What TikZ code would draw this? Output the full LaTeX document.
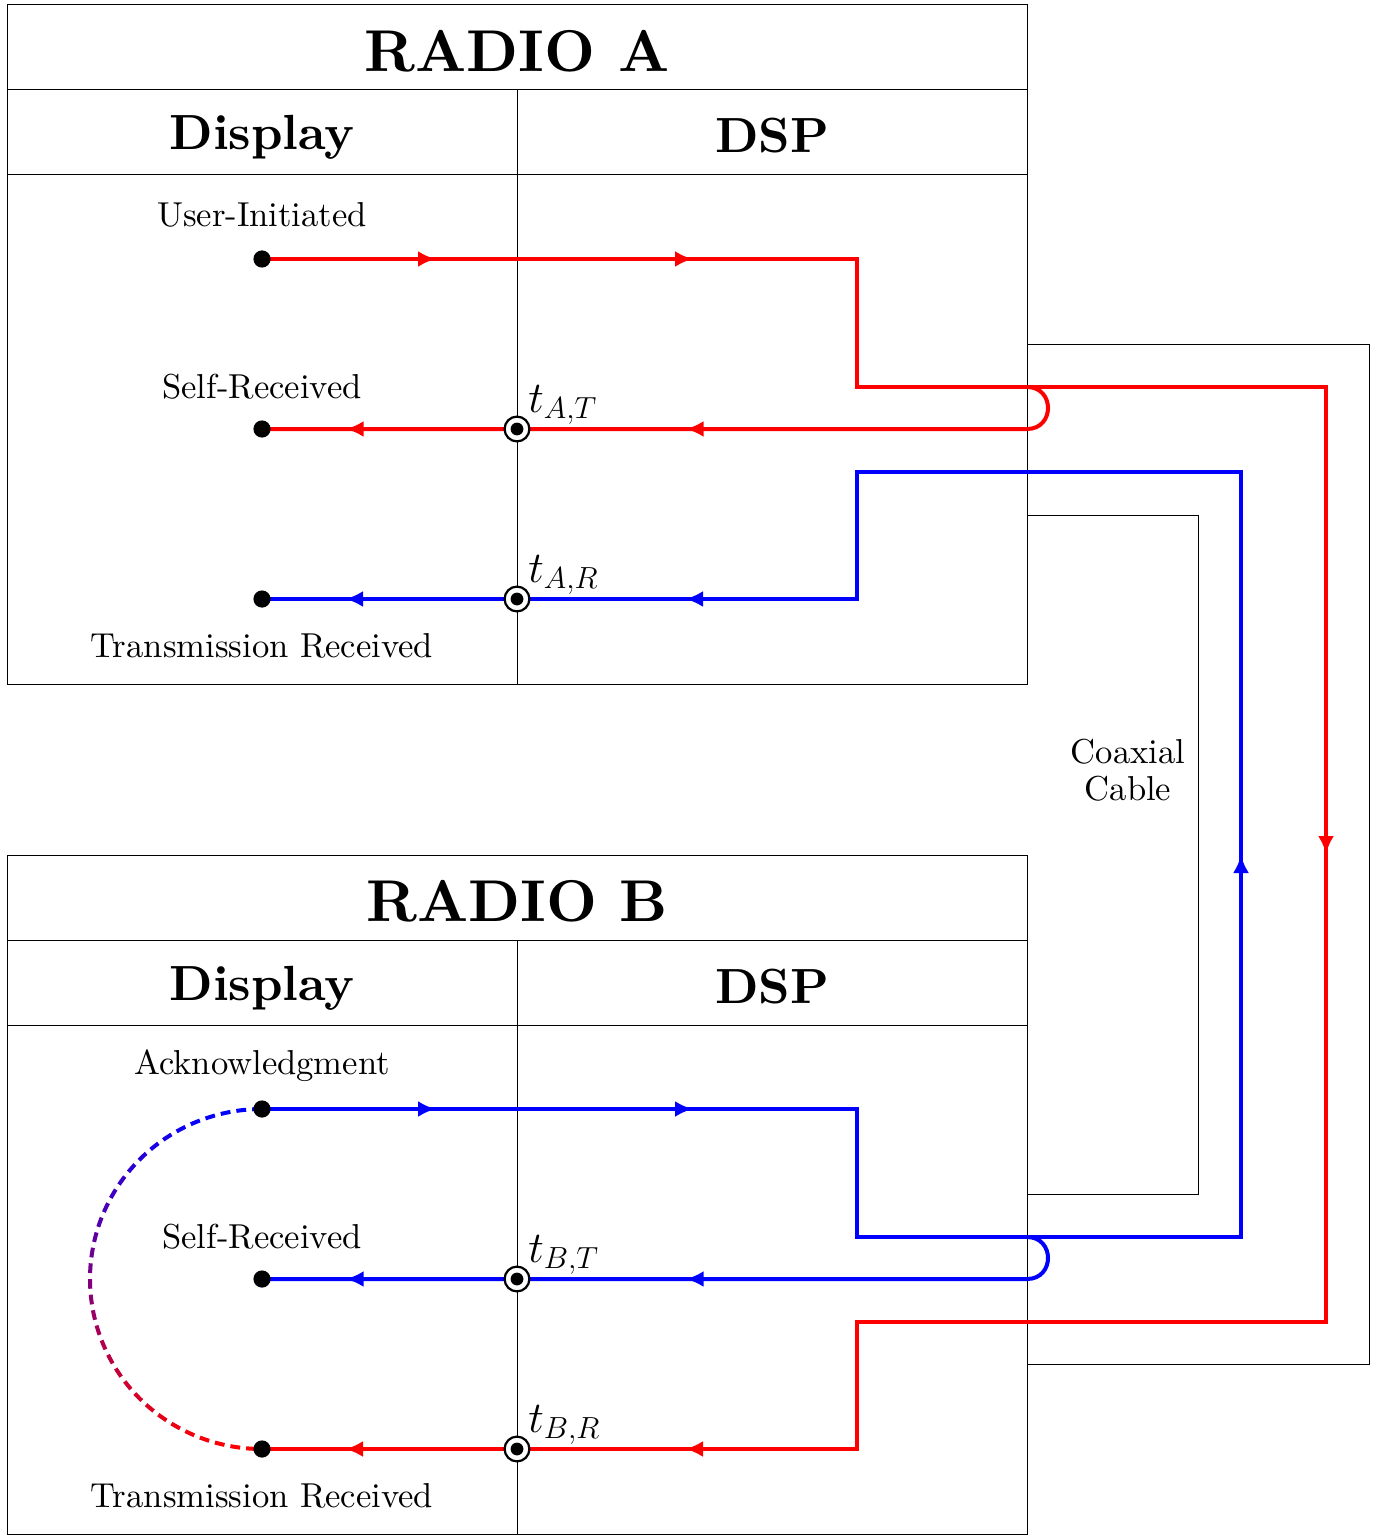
\documentclass[tikz,border=0pt]{standalone}
\usepackage{fontspec}
\setmainfont{lmroman10-regular}[Extension=.otf, BoldFont=lmroman10-bold, ItalicFont=lmroman10-italic, BoldItalicFont=lmroman10-bolditalic]
\usetikzlibrary{arrows.meta,decorations.markings}
\tikzset{
  frame/.style={draw=black, line width=0.5pt},
  sig/.style={line width=2pt},
  dotnode/.style={circle, fill=black, inner sep=0pt, minimum size=8.6pt},
  tnode/.style={circle, draw=black, fill=white, line width=1.1pt, inner sep=0pt, minimum size=12.4pt,
    path picture={\fill[black] (path picture bounding box.center) circle (3.2pt);}},
  ttl/.style={inner sep=0pt, font=\fontsize{29.5}{34}\selectfont\bfseries},
  hdr/.style={inner sep=0pt, font=\fontsize{24.7}{29}\selectfont\bfseries},
  lbl/.style={inner sep=0pt, font=\fontsize{17.3}{18.5}\selectfont},
  tlb/.style={inner sep=0pt, anchor=base west, font=\fontsize{20.74}{26}\selectfont},
  mk/.style n args={2}{postaction={decorate}, decoration={markings,
     mark=at position #1 with {\arrow{Latex[length=9pt,width=8pt]}},
     mark=at position #2 with {\arrow{Latex[length=9pt,width=8pt]}}}},
  mkfive/.style n args={5}{postaction={decorate}, decoration={markings,
     mark=at position #1 with {\arrow{Latex[length=9pt,width=8pt]}},
     mark=at position #2 with {\arrow{Latex[length=9pt,width=8pt]}},
     mark=at position #3 with {\arrow{Latex[length=9pt,width=8pt]}},
     mark=at position #4 with {\arrow{Latex[length=9pt,width=8pt]}},
     mark=at position #5 with {\arrow{Latex[length=9pt,width=8pt]}}}},
}
\begin{document}
\begin{tikzpicture}[x=0.5pt,y=-0.5pt]
\useasboundingbox (0,0) rectangle (1381,1535);

% ---------- radio frames ----------
\draw[frame] (7,5) rectangle (1027,684);
\draw[frame] (7,90) -- (1027,90) (7,175) -- (1027,175) (517,90) -- (517,684);
\draw[frame] (7,855) rectangle (1027,1534);
\draw[frame] (7,940) -- (1027,940) (7,1025) -- (1027,1025) (517,940) -- (517,1534);

% ---------- coaxial cable ----------
\draw[frame] (1027,345) -- (1369,345) -- (1369,1364) -- (1027,1364);
\draw[frame] (1027,515) -- (1198,515) -- (1198,1194) -- (1027,1194);
\node[lbl, align=center] (coax) at (1128,770) {Coaxial\\Cable};

% ---------- titles ----------
\node[ttl, anchor=base] (radioA) at (517,71.5) {RADIO A};
\node[hdr, anchor=base] (dispA) at (262,150) {Display};
\node[hdr, anchor=base] (dspA) at (772,153) {DSP};
\node[ttl, anchor=base] (radioB) at (517,921.5) {RADIO B};
\node[hdr, anchor=base] (dispB) at (262,1000) {Display};
\node[hdr, anchor=base] (dspB) at (772,1003) {DSP};

% ---------- point coordinates ----------
\coordinate (A1) at (262,259);
\coordinate (A2) at (262,429);
\coordinate (A3) at (262,599);
\coordinate (B1) at (262,1109);
\coordinate (B2) at (262,1279);
\coordinate (B3) at (262,1449);
\coordinate (TAT) at (517,429);
\coordinate (TAR) at (517,599);
\coordinate (TBT) at (517,1279);
\coordinate (TBR) at (517,1449);
\coordinate (LA) at (1027,387);
\coordinate (LB) at (1027,1237);

% ---------- dashed gradient link ----------
\foreach \i in {0,...,33}{
  \pgfmathsetmacro\ta{\i*180/34}
  \pgfmathsetmacro\tb{\ta+180/34*0.62}
  \pgfmathtruncatemacro\pp{(1-cos((\ta+\tb)/2))*50}
  \draw[line width=2pt, red!\pp!blue] plot[domain=\ta:\tb, samples=5, smooth] ({262-172*sin(\x)},{1279-170*cos(\x)});
}

% ---------- red signal ----------
\draw[sig, red, mkfive={87pt}{215.5pt}{829.5pt}{1447.5pt}{1617.5pt}]
  (A1) -- (857,259) -- (857,387) -- (1326,387) -- (1326,1322) -- (857,1322) -- (857,1449) -- (B3);
\draw[sig, red, mk={204pt}{374pt}]
  (LA) .. controls (1055,387) and (1055,429) .. (1027,429) -- (A2);

% ---------- blue signal ----------
\draw[sig, blue, mkfive={87pt}{215.5pt}{744.5pt}{1277.5pt}{1447.5pt}]
  (B1) -- (857,1109) -- (857,1237) -- (1241,1237) -- (1241,472) -- (857,472) -- (857,599) -- (A3);
\draw[sig, blue, mk={204pt}{374pt}]
  (LB) .. controls (1055,1237) and (1055,1279) .. (1027,1279) -- (B2);

% ---------- dots ----------
\node[dotnode] (dA1) at (A1) {};
\node[dotnode] (dA2) at (A2) {};
\node[dotnode] (dA3) at (A3) {};
\node[dotnode] (dB1) at (B1) {};
\node[dotnode] (dB2) at (B2) {};
\node[dotnode] (dB3) at (B3) {};
\node[tnode] (tAT) at (TAT) {};
\node[tnode] (tAR) at (TAR) {};
\node[tnode] (tBT) at (TBT) {};
\node[tnode] (tBR) at (TBR) {};

% ---------- labels ----------
\node[lbl, anchor=base] (uiA) at (262,227) {User-Initiated};
\node[lbl, anchor=base] (srA) at (262,398) {Self-Received};
\node[lbl, anchor=base] (trA) at (262,657) {Transmission Received};
\node[lbl, anchor=base] (ackB) at (262,1074) {Acknowledgment};
\node[lbl, anchor=base] (srB) at (262,1248) {Self-Received};
\node[lbl, anchor=base] (trB) at (262,1507) {Transmission Received};

\node[tlb] (lAT) at (528,412) {\scalebox{1.06}{$t_{A,T}$}};
\node[tlb] (lAR) at (528,582) {\scalebox{1.06}{$t_{A,R}$}};
\node[tlb] (lBT) at (528,1262) {\scalebox{1.06}{$t_{B,T}$}};
\node[tlb] (lBR) at (528,1432) {\scalebox{1.06}{$t_{B,R}$}};
\end{tikzpicture}
\end{document}
